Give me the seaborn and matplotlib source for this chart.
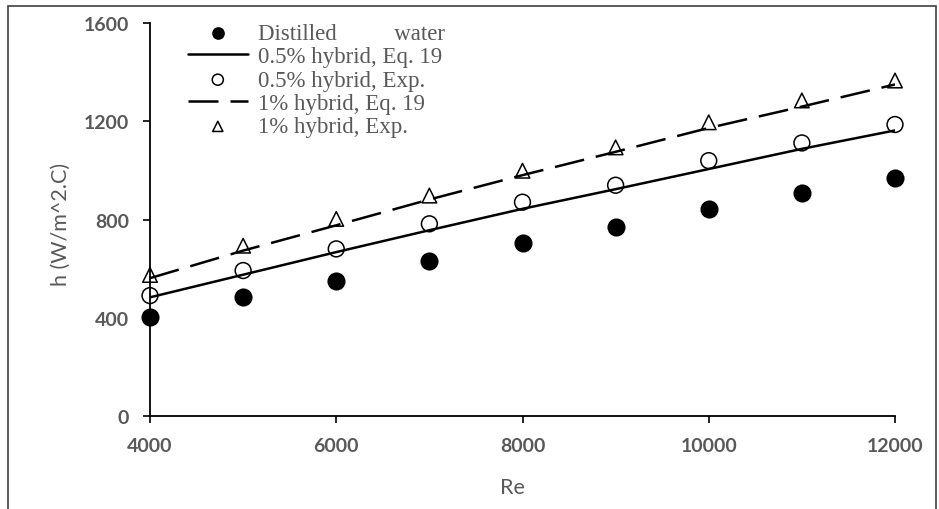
import pandas as pd
import seaborn as sns
import matplotlib.pyplot as plt
from matplotlib.patches import Rectangle

# Reynolds number on the x axis
re_values = [4000, 5000, 6000, 7000, 8000, 9000, 10000, 11000, 12000]

h_water = [403, 484, 552, 633, 707, 771, 844, 908, 969]
h_hybrid05_exp = [491, 593, 681, 783, 871, 940, 1040, 1112, 1187]
h_hybrid1_exp = [575, 694, 803, 898, 999, 1094, 1196, 1285, 1366]

# Eq. 19 predictions
h_hybrid05_eq = [484, 576, 668, 757, 844, 924, 1006, 1088, 1163]
h_hybrid1_eq = [562, 674, 777, 882, 981, 1076, 1173, 1260, 1350]

# labels
legend_labels = ['Distilled          water', '0.5% hybrid, Eq. 19', '0.5% hybrid, Exp.',
                 '1% hybrid, Eq. 19', '1% hybrid, Exp.']
x_ticks = [4000, 6000, 8000, 10000, 12000]
y_ticks = [0, 400, 800, 1200, 1600]

df = pd.DataFrame({'Re': re_values, 'water': h_water,
                   'exp05': h_hybrid05_exp, 'exp1': h_hybrid1_exp,
                   'eq05': h_hybrid05_eq, 'eq1': h_hybrid1_eq})

sns.set_style('ticks')
plt.rcParams['font.family'] = ['Lato', 'DejaVu Sans']
text_color = '#595959'

fig = plt.figure(figsize=(9.39, 5.10), dpi=100)
ax = fig.add_axes([150 / 939, 1 - 417.3 / 510, 745 / 939, 393.3 / 510])

# model lines
sns.lineplot(data=df, x='Re', y='eq05', ax=ax, color='black', lw=1.8,
             label=legend_labels[1], zorder=2)
sns.lineplot(data=df, x='Re', y='eq1', ax=ax, color='black', lw=1.8,
             linestyle=(0, (12, 4.8)), label=legend_labels[3], zorder=2)

# experimental points
sns.scatterplot(data=df, x='Re', y='water', ax=ax, color='black', s=170,
                edgecolor='black', linewidth=0, label=legend_labels[0],
                zorder=3, clip_on=False)
sns.scatterplot(data=df, x='Re', y='exp05', ax=ax, facecolor='none', s=130,
                edgecolor='black', linewidth=1.1, label=legend_labels[2],
                zorder=3, clip_on=False)
sns.scatterplot(data=df, x='Re', y='exp1', ax=ax, marker='^', facecolor='none', s=110,
                edgecolor='black', linewidth=1.1, label=legend_labels[4],
                zorder=3, clip_on=False)

# axes limits and ticks
ax.set_xlim(4000, 12000)
ax.set_ylim(0, 1600)
ax.set_xticks(x_ticks)
ax.set_yticks(y_ticks)
ax.tick_params(axis='both', direction='out', length=5, width=1.2, color='black',
               labelsize=14, labelcolor=text_color, pad=10)
for lab in ax.get_xticklabels() + ax.get_yticklabels():
    lab.set_fontweight('bold')

for side in ['top', 'right']:
    ax.spines[side].set_visible(False)
for side in ['left', 'bottom']:
    ax.spines[side].set_color('black')
    ax.spines[side].set_linewidth(1.3)

# axis labels
ax.set_xlabel('Re', fontsize=15.5, color=text_color)
ax.set_ylabel('h (W/m^2.C)', fontsize=15.5, color=text_color)
ax.xaxis.set_label_coords((512 - 150) / 745, -0.155)
ax.yaxis.set_label_coords(-0.106, 0.49)

# legend in the original order
handles, labels = ax.get_legend_handles_labels()
lookup = dict(zip(labels, handles))
leg = ax.legend([lookup[l] for l in legend_labels], legend_labels,
                loc='upper left', bbox_to_anchor=((188 - 150) / 745, 1.0),
                frameon=False, borderaxespad=0, borderpad=0,
                prop={'family': 'Liberation Serif', 'size': 16.5},
                labelspacing=0.1, handlelength=2.6, handletextpad=0.44,
                markerscale=0.7)
for t in leg.get_texts():
    t.set_color(text_color)

# outer frame around the picture
fig.patches.append(Rectangle((8 / 939, -0.05), 928 / 939, 1.05 - 7 / 510,
                             transform=fig.transFigure, fill=False,
                             edgecolor='#404040', linewidth=1.2))

plt.savefig('out.png', dpi=100)
plt.close()
